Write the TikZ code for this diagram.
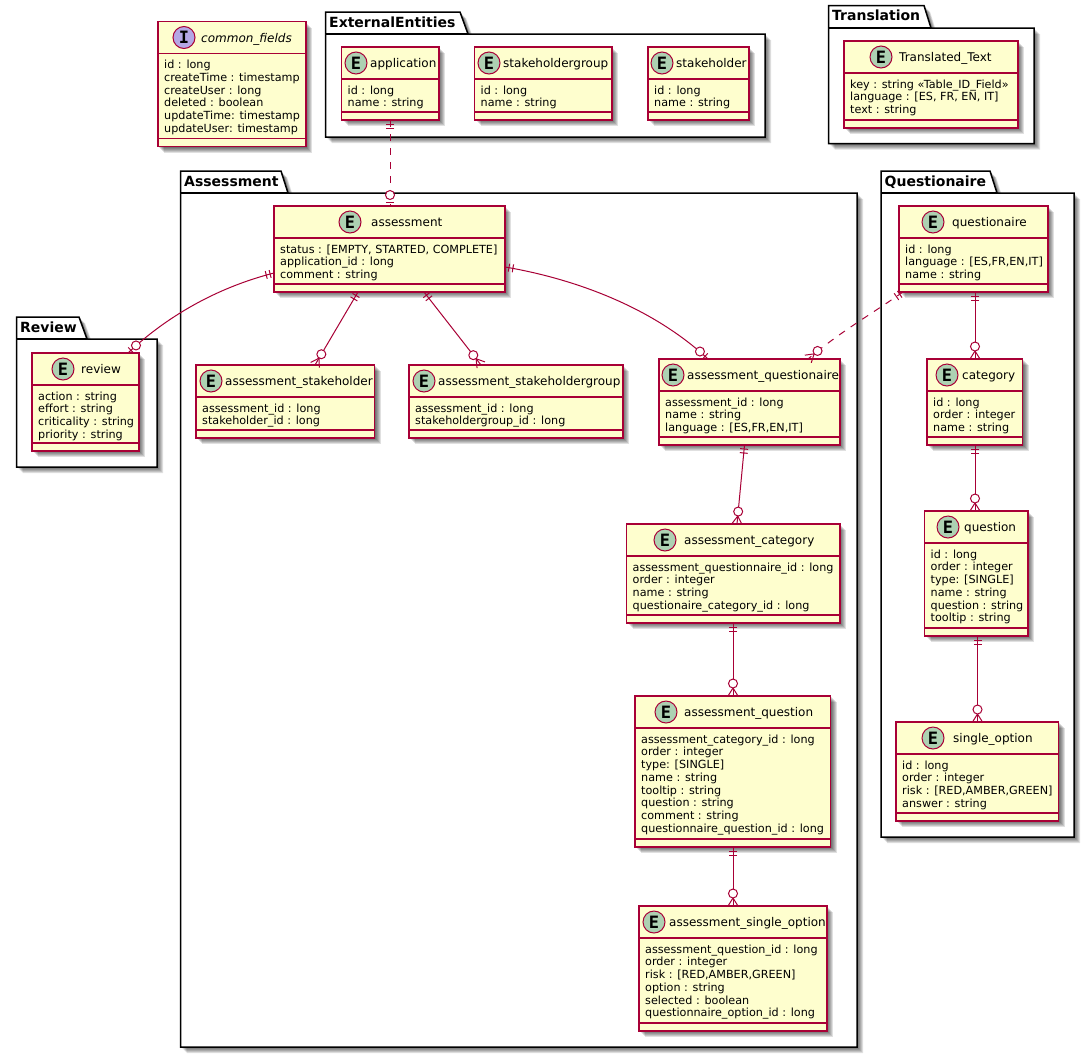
\documentclass[tikz,border=0pt]{standalone}
\usepackage{fontspec}
\setmainfont{DejaVu Sans}
\newfontfamily\letterfont{DejaVu Sans Mono}[BoldFont={DejaVu Sans Mono Bold}]
\usetikzlibrary{calc}
\definecolor{umlline}{HTML}{A80036}
\definecolor{umlfill}{HTML}{FEFECE}
\definecolor{umlE}{HTML}{ADD1B2}
\definecolor{umlI}{HTML}{B4A7E5}
\tikzset{
  x=1pt,y=-1pt,
  entitybox/.style={draw=umlline,fill=umlfill,line width=1.4pt,rectangle,inner sep=0pt,outer sep=0pt},
  septext/.style={draw=umlline,line width=1.4pt},
  titletext/.style={anchor=base west,inner sep=0pt,font=\fontsize{12}{14}\selectfont,text=black},
  fieldtext/.style={anchor=base west,inner sep=0pt,font=\fontsize{11.2}{13}\selectfont,text=black},
  pkgbox/.style={draw=black,fill=white,line width=1.5pt,line join=miter},
  pkgtitle/.style={anchor=base west,inner sep=0pt,font=\fontsize{14}{16}\selectfont\bfseries,text=black},
  badge/.style={circle,draw=umlline,line width=1pt,minimum size=22pt,inner sep=0pt,outer sep=0pt,font=\fontsize{17}{17}\selectfont\letterfont\bfseries,text=black},
  shadowlayer/.style={fill=black,opacity=0.12},
  conn/.style={draw=umlline,line width=1pt},
  connd/.style={conn,dash pattern=on 7pt off 7pt},
  markline/.style={draw=umlline,line width=1pt},
  markcirc/.style={draw=umlline,line width=1pt,fill=white},
}
\def\entletter{E}\def\entcol{umlE}
% name x1 y1 x2 y2 badgex titlex title fields
\newcommand{\entity}[9]{%
  \foreach \s in {1,...,6}{\fill[shadowlayer] ({#2+\s},{#3+\s}) rectangle ({#4+\s},{#5+\s});}
  \node[entitybox,minimum width={(#4-#2)*1pt},minimum height={(#5-#3)*1pt}] (#1) at ({(#2+#4)/2},{(#3+#5)/2}) {};
  \draw[septext] (#2,{#3+32}) -- (#4,{#3+32});
  \draw[septext] (#2,{#5-8}) -- (#4,{#5-8});
  \node[badge,fill=\entcol] (#1-badge) at (#6,{#3+16}) {\entletter};
  \node[titletext] (#1-title) at (#7,{#3+20.5}) {#8};
  \foreach \t [count=\i] in {#9}{\node[fieldtext] (#1-f\i) at ({#2+6},{#3+47+(\i-1)*12.75}) {\t};}
}
% name x1 toptab tabright tabslant bodytop x2 y2 title
\newcommand{\package}[9]{%
  \foreach \s in {1,...,6}{\fill[shadowlayer] ({#2+\s},{#3+\s}) -- ({#4+\s},{#3+\s}) -- ({#5+\s},{#6+\s}) -- ({#7+\s},{#6+\s}) -- ({#7+\s},{#8+\s}) -- ({#2+\s},{#8+\s}) -- cycle;}
  \draw[pkgbox] (#2,#3) -- (#4,#3) -- (#5,#6) -- (#7,#6) -- (#7,#8) -- (#2,#8) -- cycle;
  \draw[pkgbox] (#2,#6) -- (#5,#6);
  \node[pkgtitle] (#1) at ({#2+3.5},{#3+15}) {#9};
}
% A = end on the entity, B = point toward which the line leaves
\newcommand{\markone}[2]{%
  \draw[markline] ($(#1)!4pt!(#2)!4pt!90:(#2)$) -- ($(#1)!4pt!(#2)!4pt!-90:(#2)$);
  \draw[markline] ($(#1)!8pt!(#2)!4pt!90:(#2)$) -- ($(#1)!8pt!(#2)!4pt!-90:(#2)$);
}
\newcommand{\markzeroone}[2]{%
  \draw[markline] ($(#1)!4pt!(#2)!4pt!90:(#2)$) -- ($(#1)!4pt!(#2)!4pt!-90:(#2)$);
  \draw[markcirc] ($(#1)!11pt!(#2)$) circle[radius=4.5pt];
}
\newcommand{\markzeromany}[2]{%
  \draw[markline] ($(#1)!8pt!(#2)$) -- ($(#1)!5pt!90:(#2)$);
  \draw[markline] ($(#1)!8pt!(#2)$) -- ($(#1)!5pt!-90:(#2)$);
  \draw[markcirc] ($(#1)!12.5pt!(#2)$) circle[radius=4.5pt];
}
\begin{document}
\begin{tikzpicture}
\fill[white] (0,0) rectangle (1090,1053);
\useasboundingbox (0,0) rectangle (1090,1053);

\package{pkgext}{325.5}{12}{460}{468}{34}{765}{137}{ExternalEntities}
\package{pkgass}{180.5}{171}{281}{288}{193}{857}{1047}{Assessment}
\package{pkgrev}{16.5}{317}{79}{87}{339}{157}{467}{Review}
\package{pkgtra}{828.5}{5.5}{924}{931}{28}{1034}{143.5}{Translation}
\package{pkgque}{881}{171}{990}{997}{193}{1074}{837}{Questionaire}

\def\entletter{I}\def\entcol{umlI}
\entity{common}{158}{21.5}{306}{146.5}{184}{201}{\itshape common\_fields}{id : long,createTime : timestamp,createUser : long,deleted : boolean,updateTime: timestamp,updateUser: timestamp}
\def\entletter{E}\def\entcol{umlE}
\entity{application}{341.5}{47}{439}{120}{356}{370}{application}{id : long,name : string}
\entity{stakegroup}{474.5}{47}{612}{120}{489}{503}{stakeholdergroup}{id : long,name : string}
\entity{stake}{648}{47}{749}{120}{662}{676}{stakeholder}{id : long,name : string}
\entity{translated}{844}{41}{1018}{128}{881}{899}{Translated\_Text}{key : string «Table\_ID\_Field»,{language : [ES, FR, EN, IT]},text : string}
\entity{assessment}{274}{206}{505}{292}{350}{371}{assessment}{{status : [EMPTY, STARTED, COMPLETE]},application\_id : long,comment : string}
\entity{review}{32}{353}{139}{451}{63}{81}{review}{action : string,effort : string,criticality : string,priority : string}
\entity{astake}{196}{365}{374.5}{438}{211}{225}{assessment\_stakeholder}{assessment\_id : long,stakeholder\_id : long}
\entity{astakegroup}{409}{365}{623}{438}{424}{438}{assessment\_stakeholdergroup}{assessment\_id : long,stakeholdergroup\_id : long}
\entity{aquestionaire}{659}{359}{840}{445}{673}{687}{assessment\_questionaire}{assessment\_id : long,name : string,{language : [ES,FR,EN,IT]}}
\entity{acategory}{626.5}{524}{840}{623}{665}{684}{assessment\_category}{assessment\_questionnaire\_id : long,order : integer,name : string,questionaire\_category\_id : long}
\entity{aquestion}{635}{696}{830.5}{847}{666}{684}{assessment\_question}{assessment\_category\_id : long,order : integer,type: [SINGLE],name : string,tooltip : string,question : string,comment : string,questionnaire\_question\_id : long}
\entity{asingle}{639}{906}{827}{1031}{654}{669}{assessment\_single\_option}{assessment\_question\_id : long,order : integer,{risk : [RED,AMBER,GREEN]},option : string,selected : boolean,questionnaire\_option\_id : long}
\entity{questionaire}{899}{206}{1048}{292}{933}{952}{questionaire}{id : long,{language : [ES,FR,EN,IT]},name : string}
\entity{category}{927}{359}{1022.5}{445}{947}{962}{category}{id : long,order : integer,name : string}
\entity{question}{924.5}{511}{1028}{636}{948}{964}{question}{id : long,order : integer,type: [SINGLE],name : string,question : string,tooltip : string}
\entity{singleoption}{896}{722}{1058.5}{821}{933}{953}{single\_option}{id : long,order : integer,{risk : [RED,AMBER,GREEN]},answer : string}

% connector ends on the entities
\coordinate (c1a) at ([xshift=48.5pt]application.south west);
\coordinate (c1b) at ([xshift=116pt]assessment.north west);
\draw[connd] (c1a) -- (c1b);
\markone{c1a}{c1b}\markzeroone{c1b}{c1a}

\coordinate (c2a) at ([yshift=-24pt]assessment.west);
\coordinate (c2b) at ([xshift=96pt]review.north west);
\coordinate (c2p) at (215,288);
\coordinate (c2q) at (165,318);
\draw[conn] (c2a) .. controls (c2p) and (c2q) .. (c2b);
\markone{c2a}{c2p}\markzeroone{c2b}{c2q}

\coordinate (c3a) at ([xshift=84pt]assessment.south west);
\coordinate (c3b) at ([xshift=119pt]astake.north west);
\draw[conn] (c3a) -- (c3b);
\markone{c3a}{c3b}\markzeromany{c3b}{c3a}

\coordinate (c4a) at ([xshift=150pt]assessment.south west);
\coordinate (c4b) at ([xshift=72pt]astakegroup.north west);
\draw[conn] (c4a) -- (c4b);
\markone{c4a}{c4b}\markzeromany{c4b}{c4a}

\coordinate (c5a) at ([yshift=-18pt]assessment.east);
\coordinate (c5b) at ([xshift=49pt]aquestionaire.north west);
\coordinate (c5p) at (570,278);
\coordinate (c5q) at (650,305);
\draw[conn] (c5a) .. controls (c5p) and (c5q) .. (c5b);
\markone{c5a}{c5p}\markzeroone{c5b}{c5q}

\coordinate (c6a) at ([xshift=4pt]questionaire.south west);
\coordinate (c6b) at ([xshift=149pt]aquestionaire.north west);
\coordinate (c6p) at (870,315);
\coordinate (c6q) at (840,332);
\draw[connd] (c6a) .. controls (c6p) and (c6q) .. (c6b);
\markone{c6a}{c6p}\markzeromany{c6b}{c6q}

\coordinate (c7a) at ([xshift=85.5pt]aquestionaire.south west);
\coordinate (c7b) at ([xshift=110.5pt]acategory.north west);
\draw[conn] (c7a) -- (c7b);
\markone{c7a}{c7b}\markzeromany{c7b}{c7a}

\coordinate (c8a) at ([xshift=106.5pt]acategory.south west);
\coordinate (c8b) at ([xshift=98pt]aquestion.north west);
\draw[conn] (c8a) -- (c8b);
\markone{c8a}{c8b}\markzeromany{c8b}{c8a}

\coordinate (c9a) at ([xshift=98pt]aquestion.south west);
\coordinate (c9b) at ([xshift=94pt]asingle.north west);
\draw[conn] (c9a) -- (c9b);
\markone{c9a}{c9b}\markzeromany{c9b}{c9a}

\coordinate (c10a) at ([xshift=76pt]questionaire.south west);
\coordinate (c10b) at ([xshift=48pt]category.north west);
\draw[conn] (c10a) -- (c10b);
\markone{c10a}{c10b}\markzeromany{c10b}{c10a}

\coordinate (c11a) at ([xshift=48pt]category.south west);
\coordinate (c11b) at ([xshift=50.5pt]question.north west);
\draw[conn] (c11a) -- (c11b);
\markone{c11a}{c11b}\markzeromany{c11b}{c11a}

\coordinate (c12a) at ([xshift=53pt]question.south west);
\coordinate (c12b) at ([xshift=81.5pt]singleoption.north west);
\draw[conn] (c12a) -- (c12b);
\markone{c12a}{c12b}\markzeromany{c12b}{c12a}
\end{tikzpicture}
\end{document}
